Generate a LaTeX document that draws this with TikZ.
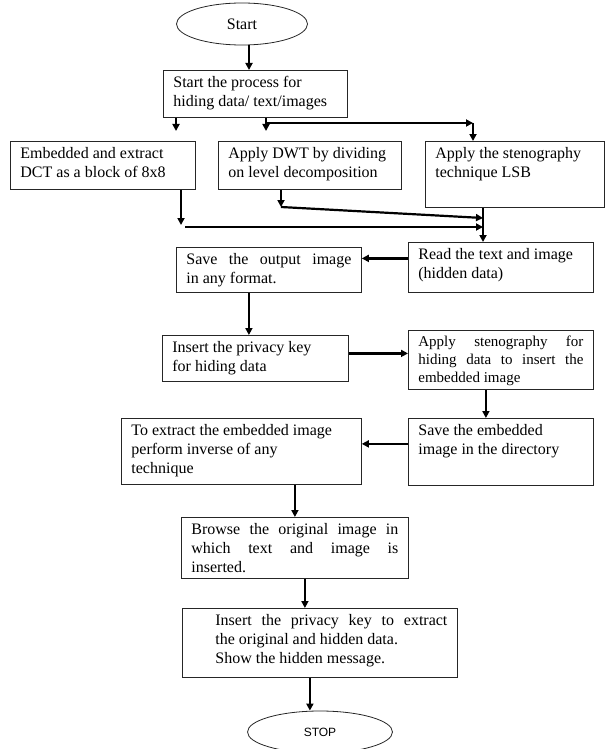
\documentclass[tikz,border=0pt]{standalone}
\usepackage{fontspec}
\setmainfont{Liberation Serif}
\newfontfamily\stopfont{Liberation Sans}
\usetikzlibrary{shapes.geometric,arrows.meta}
\hyphenpenalty=10000
\tolerance=10000
\newcommand{\boxtext}[3]{\parbox[t][#2][t]{#1}{#3}}

\begin{document}
\begin{tikzpicture}[x=1pt,y=-1pt,
    stepbox/.style={draw=black!85, line width=0.8pt, anchor=north west, inner xsep=10pt, inner ysep=6pt, font=\fontsize{16}{19}\selectfont},
    terminal/.style={draw=black!85, line width=0.8pt, ellipse, inner sep=0pt},
    flow/.style={line width=2.2pt, -{Triangle[length=7pt,width=7pt]}}]
    \useasboundingbox (0,0) rectangle (605,749);

    \node[terminal, minimum width=131pt, minimum height=42pt, font=\fontsize{16}{19}\selectfont] (start) at (242,24) {Start};
    \node[stepbox] (proc) at (163,70) {\boxtext{164pt}{35pt}{Start the process for\\hiding data/ text/images}};

    \node[stepbox] (dct) at (10,141) {\boxtext{165pt}{36pt}{Embedded and extract\\DCT as a block of 8x8}};
    \node[stepbox] (dwt) at (218,141) {\boxtext{163pt}{36pt}{Apply DWT by dividing\\on level decomposition}};
    \node[stepbox] (lsb) at (425,141) {\boxtext{159pt}{54pt}{Apply the stenography\\technique LSB}};

    \node[stepbox] (read) at (408,242) {\boxtext{165pt}{38pt}{Read the text and image\\(hidden data)}};
    \node[stepbox] (saveout) at (176,247) {\boxtext{165pt}{33pt}{Save the output image\linebreak in any format.}};

    \node[stepbox] (key) at (162,335) {\boxtext{166pt}{34pt}{Insert the privacy key\\for hiding data}};
    \node[stepbox, font=\fontsize{15}{18}\selectfont] (stego) at (408,330) {\boxtext{165pt}{47pt}{Apply stenography for\linebreak hiding data to insert the\linebreak embedded image}};

    \node[stepbox] (saveemb) at (408,418) {\boxtext{165pt}{55pt}{Save the embedded\\image in the directory}};
    \node[stepbox] (extract) at (121,418) {\boxtext{220pt}{54pt}{To extract the embedded image\\perform inverse of any\\technique}};

    \node[stepbox] (browse) at (181,517) {\boxtext{207pt}{49pt}{Browse the original image in\linebreak which text and image is\linebreak inserted.}};
    \node[stepbox] (key2) at (182,608) {\boxtext{255pt}{57pt}{\leftskip=23pt Insert the privacy key to extract\linebreak the original and hidden data.\\Show the hidden message.}};

    \node[terminal, minimum width=145pt, minimum height=42pt, font=\stopfont\fontsize{12}{14}\selectfont] (stop) at (320,732) {STOP};

    \coordinate (dctin) at (176,131);
    \coordinate (dwtin) at (266,131);
    \coordinate (fork) at (266,123);
    \coordinate (lsbin) at (473,123);
    \coordinate (dctout) at (181,225);
    \coordinate (dctrun) at (185,227);
    \coordinate (dwtout) at (281,207);
    \coordinate (joinlow) at (483,227);
    \coordinate (joinhigh) at (483,218);

    \draw[flow] ([xshift=7pt]start.south) -- ([xshift=7pt]start.south |- proc.north);
    \draw[flow] (dctin |- proc.south) -- (dctin);
    \draw[flow] (dwtin |- proc.south) -- (dwtin);
    \draw[flow] (fork) -- (lsbin);
    \draw[flow] (lsbin) -- (lsbin |- lsb.north);
    \draw[flow] (dctout |- dct.south) -- (dctout);
    \draw[flow] (dctrun) -- (joinlow);
    \draw[flow] (dwtout |- dwt.south) -- (dwtout);
    \draw[flow] (dwtout) -- (joinhigh);
    \draw[flow] (joinlow |- lsb.south) -- (joinlow |- read.north);
    \draw[flow] ([yshift=9pt]read.west) -- ([yshift=9pt]read.west -| saveout.east);
    \draw[flow] ([xshift=-20pt]saveout.south) -- ([xshift=-20pt]saveout.south |- key.north);
    \draw[flow] ([yshift=5pt]key.east) -- ([yshift=5pt]key.east -| stego.west);
    \draw[flow] ([xshift=-15pt]stego.south) -- ([xshift=-15pt]stego.south |- saveemb.north);
    \draw[flow] ([yshift=8pt]saveemb.west) -- ([yshift=8pt]saveemb.west -| extract.east);
    \draw[flow] (browse.north |- extract.south) -- (browse.north);
    \draw[flow] ([xshift=10pt]browse.south) -- ([xshift=10pt]browse.south |- key2.north);
    \draw[flow] ([xshift=-10pt]key2.south) -- ([xshift=-10pt]key2.south |- stop.north);
\end{tikzpicture}
\end{document}
